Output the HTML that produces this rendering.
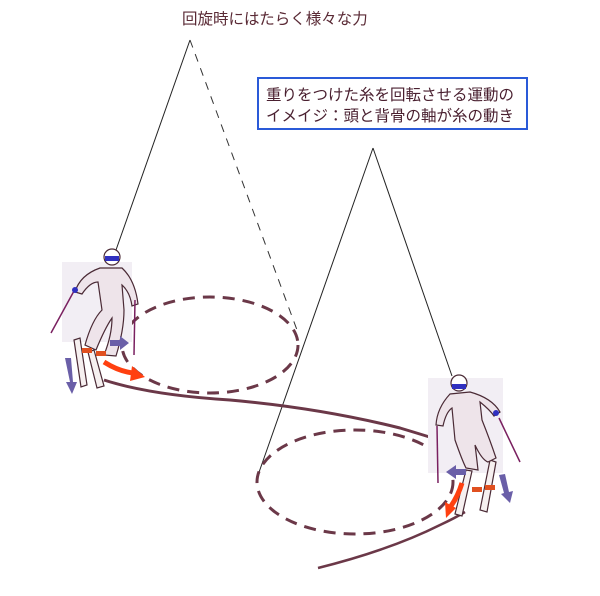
<!DOCTYPE html>
<html><head><meta charset="utf-8"><style>
html,body{margin:0;padding:0;background:#fff;}
svg{display:block;}
text{font-family:"Liberation Sans","Noto Sans CJK JP",sans-serif;}
</style></head><body>
<svg width="600" height="596" viewBox="0 0 600 596" xmlns="http://www.w3.org/2000/svg">
<text x="182" y="24" font-size="15.5" fill="#5a2a35">回旋時にはたらく様々な力</text>
<rect x="258" y="78" width="269" height="51" fill="#fff" stroke="#2a5ad8" stroke-width="2"/>
<text x="266" y="100" font-size="15.5" fill="#4a2030">重りをつけた糸を回転させる運動の</text>
<text x="266" y="121" font-size="15.5" fill="#4a2030">イメイジ：頭と背骨の軸が糸の動き</text>

<!-- cone 1 -->
<line x1="190" y1="40" x2="116" y2="250" stroke="#222" stroke-width="1"/>
<line x1="190" y1="40" x2="297" y2="330" stroke="#333" stroke-width="1" stroke-dasharray="8,7"/>
<ellipse cx="210" cy="345" rx="88" ry="48" fill="none" stroke="#6b3848" stroke-width="3" stroke-dasharray="12,8"/>
<!-- cone 2 -->
<line x1="373" y1="148" x2="257" y2="478" stroke="#222" stroke-width="1"/>
<line x1="373" y1="148" x2="452" y2="376" stroke="#222" stroke-width="1"/>
<ellipse cx="355" cy="482" rx="98" ry="52" fill="none" stroke="#6b3848" stroke-width="3" stroke-dasharray="12,8"/>

<!-- main path -->
<path d="M104,380 Q150,395 230,400 Q320,408 400,428 Q430,437 455,445" fill="none" stroke="#6b3848" stroke-width="3"/>
<path d="M318,568 Q390,550 440,525 Q455,518 465,512" fill="none" stroke="#6b3848" stroke-width="2.5"/>

<!-- skier 1 -->
<g stroke="#4a2a35" stroke-width="1.2" fill="#f4eef0">
<rect x="62" y="262" width="70" height="80" fill="#f2eef4" stroke="none"/>
<path d="M74,340 L80,338 L87,385 L81,387 Z" fill="#f6f0f0"/>
<path d="M88,352 L94,350 L104,386 L97,388 Z" fill="#f6f0f0"/>
<path d="M100,268 Q80,275 75,292 L82,294 Q90,282 98,282 L102,310 Q92,320 85,345 L96,350 Q105,328 112,318 Q112,335 104,355 L116,356 Q124,330 124,310 L122,285 Q130,292 132,306 L138,304 Q135,280 122,268 Z" fill="#eee4ea"/>
<circle cx="112" cy="257" r="8" fill="#fff"/>
</g>
<rect x="105" y="256" width="14" height="5" fill="#3030c0"/>
<rect x="82" y="348" width="10" height="5" fill="#e05020"/>
<rect x="96" y="351" width="10" height="5" fill="#e05020"/>
<line x1="74" y1="291" x2="51" y2="333" stroke="#7a2060" stroke-width="1.5"/>
<line x1="135" y1="300" x2="134" y2="355" stroke="#7a2060" stroke-width="1.5"/>
<circle cx="75" cy="290" r="3" fill="#3030c0"/>
<!-- arrows 1 -->
<path d="M65,358 L71,358 L73,382 L77,382 L72,394 L66,382 L70,382 Z" fill="#6a5fa8"/>
<path d="M110,340 L120,340 L120,336 L129,343 L120,350 L120,346 L110,346 Z" fill="#6a5fa8"/>
<path d="M104,362 Q120,372 134,373" fill="none" stroke="#ff4010" stroke-width="5"/>
<path d="M132,366 L145,377 L130,381 Z" fill="#ff4010"/>

<!-- skier 2 -->
<g stroke="#4a2a35" stroke-width="1.2" fill="#f4eef0">
<rect x="428" y="378" width="75" height="95" fill="#f2eef4" stroke="none"/>
<path d="M466,470 L472,471 L462,516 L455,514 Z" fill="#f6f0f0"/>
<path d="M490,460 L496,462 L487,512 L480,510 Z" fill="#f6f0f0"/>
<path d="M450,394 Q437,408 436,425 L443,426 Q446,412 452,408 L455,440 Q462,460 466,468 L478,470 Q476,452 475,445 Q482,460 488,462 L496,458 Q490,440 482,420 L480,402 Q490,410 494,416 L500,412 Q492,398 470,392 Z" fill="#eee4ea"/>
<circle cx="459" cy="383" r="8" fill="#fff"/>
</g>
<rect x="452" y="384" width="14" height="5" fill="#3030c0"/>
<rect x="472" y="487" width="10" height="5" fill="#e05020"/>
<rect x="485" y="485" width="10" height="5" fill="#e05020"/>
<line x1="437" y1="426" x2="438" y2="483" stroke="#7a2060" stroke-width="1.5"/>
<line x1="499" y1="418" x2="520" y2="462" stroke="#7a2060" stroke-width="1.5"/>
<circle cx="496" cy="413" r="3" fill="#3030c0"/>
<!-- arrows 2 -->
<path d="M466,469 L456,469 L456,465 L446,472 L456,479 L456,475 L466,475 Z" fill="#6a5fa8"/>
<path d="M499,475 L505,474 L509,492 L513,491 L510,503 L501,494 L504,493 Z" fill="#6a5fa8"/>
<path d="M462,483 Q458,496 451,506" fill="none" stroke="#ff4010" stroke-width="5"/>
<path d="M445,502 L456,508 L446,518 Z" fill="#ff4010"/>
</svg>
</body></html>
